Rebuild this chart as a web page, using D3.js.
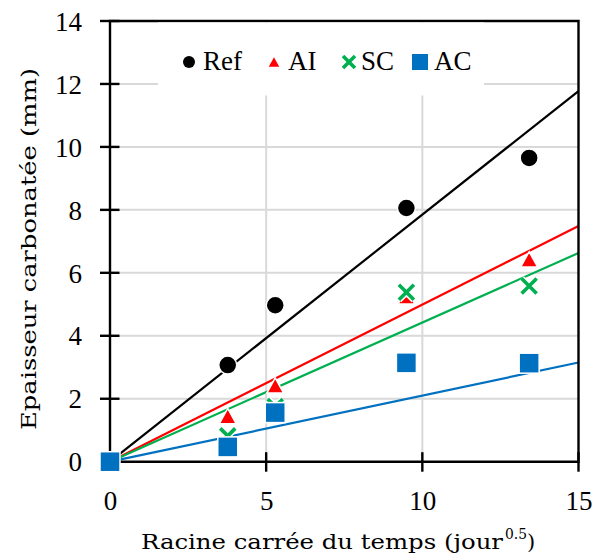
<!DOCTYPE html>
<html><head><meta charset="utf-8">
<script src="https://cdn.jsdelivr.net/npm/d3@7"></script>
<style>
html,body{margin:0;padding:0;background:#fff;}
svg{display:block;}
text{font-family:"Liberation Serif","Times New Roman",serif;fill:#000;}
text.title{font-family:"DejaVu Serif",serif;}
</style></head>
<body>
<svg id="chart" width="595" height="557"></svg>
<script>
// ---- data ----
const xValues = [0, 3.77, 5.29, 9.49, 13.42];
const seriesNames = ["Ref", "AI", "SC", "AC"];
const refValues = [0, 3.07, 4.97, 8.06, 9.65];
const aiValues  = [0, 1.45, 2.42, 5.25, 6.43];
const scValues  = [0, 0.82, 1.75, 5.38, 5.58];
const acValues  = [0, 0.47, 1.56, 3.14, 3.13];
const trendSlopes = [0.785, 0.499, 0.442, 0.210]; // linear trend lines through origin
const xTicks = [0, 5, 10, 15];
const yTicks = [0, 2, 4, 6, 8, 10, 12, 14];
const xTitle = "Racine carrée du temps (jour";
const xTitleSup = "0.5";
const yTitle = "Epaisseur carbonatée (mm)";

const colors = ["#000000", "#ff0000", "#00b050", "#0070c0"];
const symbols = ["circle", "triangle", "cross", "square"];
const allValues = [refValues, aiValues, scValues, acValues];

const svg = d3.select("#chart");
const L = 110, R = 578.5, T = 21, B = 461.7;
const x = d3.scaleLinear().domain([0, 15]).range([L, R]);
const y = d3.scaleLinear().domain([0, 14]).range([B, T]);

// gridlines
const grid = svg.append("g");
grid.selectAll("line.h").data(yTicks.filter(d => d > 0 && d < 14)).join("line")
  .attr("x1", L).attr("x2", R).attr("y1", d => y(d)).attr("y2", d => y(d))
  .attr("stroke", "#d9d9d9").attr("stroke-width", 2);
grid.selectAll("line.v").data(xTicks.filter(d => d > 0 && d < 15)).join("line")
  .attr("y1", T).attr("y2", B).attr("x1", d => x(d)).attr("x2", d => x(d))
  .attr("stroke", "#d9d9d9").attr("stroke-width", 2);

// trend lines
svg.append("g").selectAll("line").data(trendSlopes).join("line")
  .attr("x1", x(0)).attr("y1", y(0))
  .attr("x2", x(15)).attr("y2", d => y(15 * d))
  .attr("stroke", (d, i) => colors[i]).attr("stroke-width", 2.2);

// axes
const xAxis = d3.axisBottom(x).tickValues(xTicks).tickSize(0).tickPadding(0);
const yAxis = d3.axisLeft(y).tickValues(yTicks).tickSize(0).tickPadding(0);
const gx = svg.append("g").attr("transform", `translate(0,${B})`).call(xAxis);
const gy = svg.append("g").attr("transform", `translate(${L},0)`).call(yAxis);
[gx, gy].forEach(g => {
  g.select(".domain").remove();
  g.selectAll("text").attr("fill", "#000").style("font-family", '"Liberation Serif",serif').style("font-size", "27px");
});
gx.selectAll("text").attr("dy", null).attr("y", 48);
gy.selectAll("text").attr("x", -28).attr("dy", "0.34em");

// cross ticks
svg.append("g").selectAll("line").data(xTicks).join("line")
  .attr("x1", d => x(d)).attr("x2", d => x(d)).attr("y1", B - 9.5).attr("y2", B + 10)
  .attr("stroke", "#000").attr("stroke-width", 2.4);
svg.append("g").selectAll("line").data(yTicks).join("line")
  .attr("y1", d => y(d)).attr("y2", d => y(d)).attr("x1", L - 10).attr("x2", L + 9.5)
  .attr("stroke", "#000").attr("stroke-width", 2.4);

// frame
const frame = svg.append("g").attr("stroke", "#000").attr("stroke-width", 2.4).attr("fill", "none");
frame.append("path").attr("d", `M${L},${T}H${R}V${B}H${L}Z`);

// marker drawing helper
function drawMarker(g, type, cx, cy, sz, color, outline) {
  if (type === "circle") {
    g.append("circle").attr("cx", cx).attr("cy", cy).attr("r", sz)
      .attr("fill", color).attr("stroke", outline ? "#fff" : "none").attr("stroke-width", 1.5);
  } else if (type === "triangle") {
    const h = sz * 1.9, w = sz * 2.1;
    g.append("path").attr("d", `M${cx},${cy - h / 2}L${cx + w / 2},${cy + h / 2}L${cx - w / 2},${cy + h / 2}Z`)
      .attr("fill", color).attr("stroke", outline ? "#fff" : "none").attr("stroke-width", 1.5);
  } else if (type === "square") {
    g.append("rect").attr("x", cx - sz).attr("y", cy - sz).attr("width", 2 * sz).attr("height", 2 * sz)
      .attr("fill", color).attr("stroke", outline ? "#fff" : "none").attr("stroke-width", 1.5);
  } else if (type === "cross") {
    const p = `M${cx - sz},${cy - sz}L${cx + sz},${cy + sz}M${cx + sz},${cy - sz}L${cx - sz},${cy + sz}`;
    if (outline) g.append("path").attr("d", p).attr("stroke", "#fff").attr("stroke-width", 6.5);
    g.append("path").attr("d", p).attr("stroke", color).attr("stroke-width", 3.6);
  }
}

// points
const sizes = [9, 8, 7.5, 10];
allValues.forEach((vals, si) => {
  const g = svg.append("g");
  vals.forEach((v, i) => drawMarker(g, symbols[si], x(xValues[i]), y(v), sizes[si], colors[si], true));
});

// legend
const lg = svg.append("g");
lg.append("rect").attr("x", 158).attr("y", T + 1.5).attr("width", 326).attr("height", 73).attr("fill", "#fff");
const legendMarkerX = [189, 274, 349, 420];
const legendTextX = [203, 288, 361, 434];
const legendSizes = [6, 5, 6, 8];
seriesNames.forEach((n, i) => {
  drawMarker(lg, symbols[i], legendMarkerX[i], 62, legendSizes[i], colors[i], false);
  lg.append("text").attr("x", legendTextX[i]).attr("y", 70).style("font-size", "27px").text(n);
});

// axis titles
svg.append("text").attr("class", "title").attr("x", 141).attr("y", 549).style("font-size", "21px")
  .attr("textLength", 362).attr("lengthAdjust", "spacingAndGlyphs").text(xTitle);
svg.append("text").attr("class", "title").attr("x", 505).attr("y", 539).style("font-size", "14px")
  .attr("textLength", 22).attr("lengthAdjust", "spacingAndGlyphs").text(xTitleSup);
svg.append("text").attr("class", "title").attr("x", 527).attr("y", 549).style("font-size", "21px").text(")");

svg.append("text").attr("class", "title").attr("transform", "translate(36,249) rotate(-90)").attr("text-anchor", "middle")
  .style("font-size", "21px").attr("textLength", 362).attr("lengthAdjust", "spacingAndGlyphs").text(yTitle);
</script>
</body></html>
